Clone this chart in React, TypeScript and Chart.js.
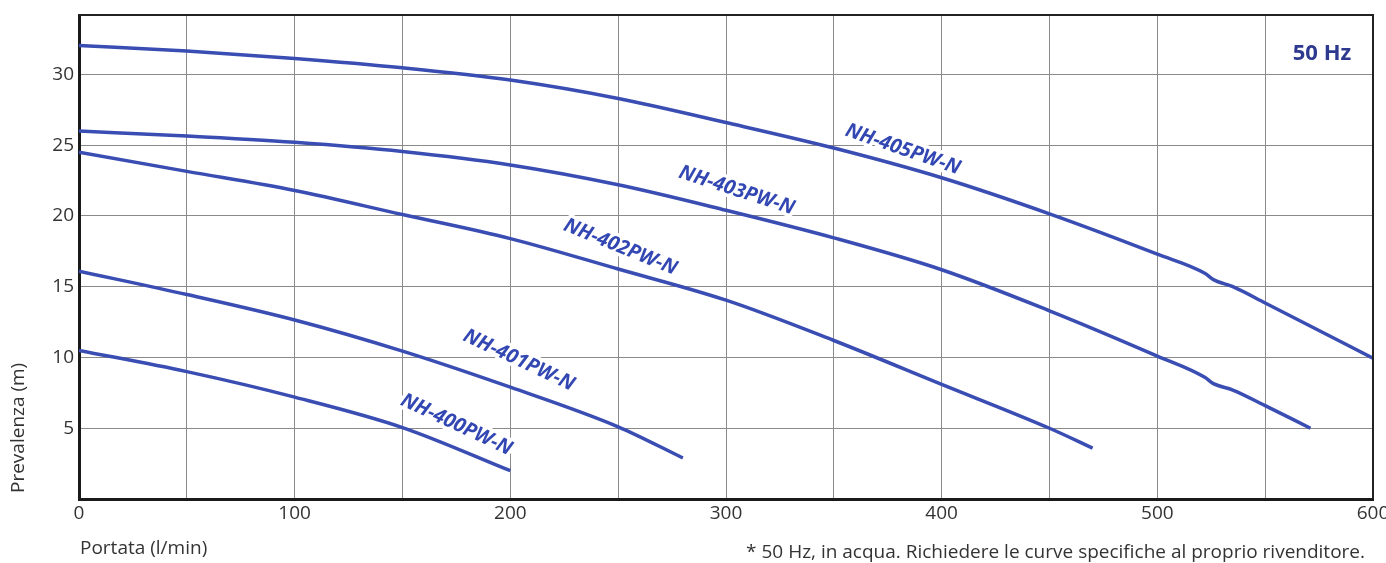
import React, { useEffect, useRef } from 'react';
import { Chart, registerables } from 'chart.js';

Chart.register(...registerables);

// ---- data (flow in l/min, head in m) ----
const flowMax = 600;
const headMax = 34.2;
const headTicks = [0, 5, 10, 15, 20, 25, 30];

const models = ['NH-400PW-N', 'NH-401PW-N', 'NH-402PW-N', 'NH-403PW-N', 'NH-405PW-N'];

const flow400 = [0, 50, 100, 150, 200];
const head400 = [10.5, 9.0, 7.2, 5.05, 2.0];

const flow401 = [0, 50, 100, 150, 200, 250, 280];
const head401 = [16.1, 14.45, 12.65, 10.45, 7.9, 5.1, 2.9];

const flow402 = [0, 50, 100, 150, 200, 250, 300, 350, 400, 450, 470];
const head402 = [24.5, 23.15, 21.8, 20.1, 18.4, 16.25, 14.05, 11.2, 8.1, 5.0, 3.6];

const flow403 = [0, 50, 100, 150, 200, 250, 300, 350, 400, 450, 500, 522, 526, 535, 550, 571];
const head403 = [26.0, 25.65, 25.2, 24.55, 23.6, 22.2, 20.4, 18.45, 16.2, 13.3, 10.1, 8.6, 8.15, 7.7, 6.6, 5.0];

const flow405 = [0, 50, 100, 150, 200, 250, 300, 350, 400, 450, 500, 522, 526, 535, 550, 600];
const head405 = [32.05, 31.65, 31.13, 30.47, 29.6, 28.3, 26.6, 24.8, 22.7, 20.15, 17.3, 15.95, 15.5, 15.0, 13.85, 9.95];

// curve label anchors (data coordinates) and rotation
const labelFlow = [175, 204, 251, 305, 382];
const labelHead = [5.25, 9.8, 17.8, 21.8, 24.7];
const labelAngle = [25, 25, 22, 18, 19];

const yTitle = 'Prevalenza (m)';
const xTitle = 'Portata (l/min)';
const freqLabel = '50 Hz';
const footnote = '* 50 Hz, in acqua. Richiedere le curve specifiche al proprio rivenditore.';

const LINE = '#3a4db3';
const LABEL = '#3347b3';
const TEXT = '#333333';
const FONT = '"Open Sans", "Noto Sans", sans-serif';

const zip = (xs: number[], ys: number[]) => xs.map((x, i) => ({ x, y: ys[i] }));

const seriesData = [
  zip(flow400, head400),
  zip(flow401, head401),
  zip(flow402, head402),
  zip(flow403, head403),
  zip(flow405, head405),
];

const decorPlugin = {
  id: 'decor',
  beforeDatasetsDraw(chart: any) {
    const { ctx, chartArea, scales } = chart;
    ctx.save();
    // curve labels with white halo
    ctx.font = `italic bold 20px ${FONT}`;
    ctx.textAlign = 'center';
    ctx.textBaseline = 'middle';
    models.forEach((m, i) => {
      const px = scales.x.getPixelForValue(labelFlow[i]);
      const py = scales.y.getPixelForValue(labelHead[i]);
      ctx.save();
      ctx.translate(px, py);
      ctx.rotate((labelAngle[i] * Math.PI) / 180);
      ctx.strokeStyle = '#ffffff';
      ctx.lineWidth = 7;
      ctx.lineJoin = 'round';
      ctx.strokeText(m, 0, 0);
      ctx.fillStyle = LABEL;
      ctx.fillText(m, 0, 0);
      ctx.restore();
    });
    // frequency tag
    ctx.font = `bold 22px ${FONT}`;
    ctx.fillStyle = '#2e3a8f';
    ctx.textAlign = 'center';
    ctx.textBaseline = 'middle';
    ctx.fillText(freqLabel, chartArea.right - 51, chartArea.top + 39);
    ctx.restore();
  },
  afterDraw(chart: any) {
    const { ctx, chartArea, width } = chart;
    ctx.save();
    // top and right frame
    ctx.strokeStyle = '#222222';
    ctx.lineWidth = 2;
    ctx.beginPath();
    ctx.moveTo(chartArea.left, chartArea.top);
    ctx.lineTo(chartArea.right, chartArea.top);
    ctx.lineTo(chartArea.right, chartArea.bottom);
    ctx.stroke();
    // axis titles
    ctx.fillStyle = TEXT;
    ctx.font = `19px ${FONT}`;
    ctx.textBaseline = 'alphabetic';
    ctx.save();
    ctx.translate(chartArea.left - 55, chartArea.bottom - 6);
    ctx.rotate(-Math.PI / 2);
    ctx.textAlign = 'left';
    ctx.fillText(yTitle, 0, 0);
    ctx.restore();
    ctx.textAlign = 'left';
    ctx.fillText(xTitle, chartArea.left + 1, 554);
    // footnote
    ctx.font = `19px ${FONT}`;
    ctx.textAlign = 'right';
    ctx.fillText(footnote, width - 21, 558);
    ctx.restore();
  },
};

export default function App() {
  const ref = useRef<HTMLCanvasElement | null>(null);

  useEffect(() => {
    document.body.style.margin = '0';
    const canvas = ref.current;
    if (!canvas) return;
    const chart = new Chart(canvas, {
      type: 'line',
      data: {
        datasets: models.map((m, i) => ({
          label: m,
          data: seriesData[i],
          borderColor: LINE,
          backgroundColor: LINE,
          borderWidth: 3.5,
          pointRadius: 0,
          pointHoverRadius: 0,
          cubicInterpolationMode: 'monotone' as const,
          fill: false,
        })),
      },
      options: {
        responsive: false,
        animation: false,
        devicePixelRatio: 1,
        layout: { padding: { left: 0, right: 13, top: 15, bottom: 0 } },
        plugins: {
          legend: { display: false },
          tooltip: { enabled: false },
          title: { display: false },
        },
        scales: {
          x: {
            type: 'linear',
            min: 0,
            max: flowMax,
            border: { display: true, color: '#1a1a1a', width: 3 },
            grid: { color: '#8a8a8a', lineWidth: 1, drawTicks: false },
            ticks: {
              stepSize: 50,
              autoSkip: false,
              maxRotation: 0,
              padding: 3,
              color: TEXT,
              font: { family: FONT, size: 19 },
              callback: (v: any) => (Number(v) % 100 === 0 ? String(v) : ''),
            },
            afterFit: (s: any) => {
              s.height = 64;
              s.paddingLeft = 0;
              s.paddingRight = 0;
            },
          },
          y: {
            type: 'linear',
            min: 0,
            max: headMax,
            border: { display: true, color: '#1a1a1a', width: 3 },
            grid: { color: '#8a8a8a', lineWidth: 1, drawTicks: false },
            afterBuildTicks: (s: any) => {
              s.ticks = headTicks.map((v) => ({ value: v }));
            },
            ticks: {
              padding: 5,
              color: TEXT,
              font: { family: FONT, size: 19 },
              callback: (v: any) => (Number(v) === 0 ? '' : String(v)),
            },
            afterFit: (s: any) => {
              s.width = 79;
              s.paddingTop = 0;
              s.paddingBottom = 0;
            },
          },
        },
      },
      plugins: [decorPlugin],
    });
    return () => chart.destroy();
  }, []);

  return (
    <div style={{ width: 1386, height: 563, background: '#ffffff' }}>
      <canvas ref={ref} width={1386} height={563} style={{ display: 'block' }} />
    </div>
  );
}
